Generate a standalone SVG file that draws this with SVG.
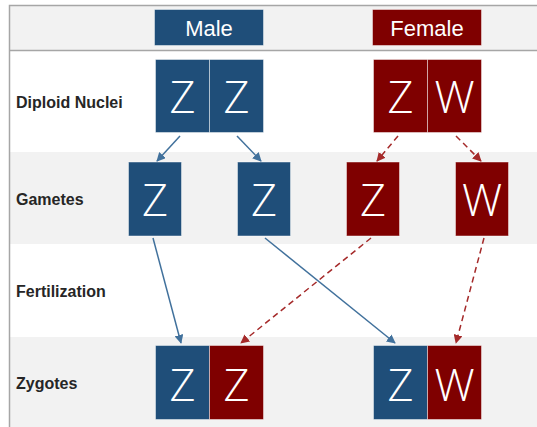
<svg xmlns="http://www.w3.org/2000/svg" width="537" height="427" viewBox="0 0 537 427">
  <style>
    .band { fill: #F2F2F2; }
    .rule { stroke: #A6A6A6; stroke-width: 1.5; fill: none; }
    .rowlabel { font-family: "Liberation Sans", Arial, sans-serif; font-weight: bold; font-size: 16px; fill: #262626; }
    .head { font-family: "Liberation Sans", Arial, sans-serif; font-size: 22px; fill: #FFFFFF; text-anchor: middle; }
    .blue { fill: #1F4E79; stroke: #FFFFFF; stroke-opacity: 0.45; stroke-width: 1; }
    .red { fill: #7F0000; stroke: #FFFFFF; stroke-opacity: 0.45; stroke-width: 1; }
    .chr { font-family: "Open Sans", "Liberation Sans", sans-serif; font-weight: 300; font-size: 45px; fill: #FFFFFF; text-anchor: middle; }
    .m { stroke: #41719C; stroke-width: 1.5; fill: none; marker-end: url(#ah-blue); }
    .f { stroke: #A52A2A; stroke-width: 1.5; fill: none; stroke-dasharray: 6 4; marker-end: url(#ah-red); }
  </style>
  <defs>
    <marker id="ah-blue" viewBox="0 0 10 10" refX="9" refY="5" markerWidth="6" markerHeight="6" markerUnits="strokeWidth" orient="auto">
      <path d="M0,0 L10,5 L0,10 z" fill="#41719C"/>
    </marker>
    <marker id="ah-red" viewBox="0 0 10 10" refX="9" refY="5" markerWidth="6" markerHeight="6" markerUnits="strokeWidth" orient="auto">
      <path d="M0,0 L10,5 L0,10 z" fill="#A52A2A"/>
    </marker>
  </defs>

  <!-- table background: header and alternating row bands -->
  <rect x="9" y="5" width="528" height="422" fill="#FFFFFF"/>
  <rect class="band" x="9" y="5" width="528" height="45"/>
  <rect class="band" x="9" y="152" width="528" height="92"/>
  <rect class="band" x="9" y="337" width="528" height="90"/>
  <path class="rule" d="M9.5,427 V5.5 H537 M9.5,50.5 H537"/>

  <!-- row labels -->
  <g id="labels">
    <text class="rowlabel" x="16" y="108">Diploid Nuclei</text>
    <text class="rowlabel" x="16" y="205">Gametes</text>
    <text class="rowlabel" x="16" y="297">Fertilization</text>
    <text class="rowlabel" x="16" y="389">Zygotes</text>
  </g>

  <!-- column headers -->
  <g id="male-header">
    <rect class="blue" x="154.5" y="9.5" width="109" height="36"/>
    <text class="head" x="209" y="36">Male</text>
  </g>
  <g id="female-header">
    <rect class="red" x="372.5" y="9.5" width="109" height="36"/>
    <text class="head" x="427" y="36">Female</text>
  </g>

  <!-- diploid nuclei -->
  <g id="male-diploid">
    <rect class="blue" x="155.5" y="59.5" width="54" height="73"/>
    <rect class="blue" x="209.5" y="59.5" width="54" height="73"/>
    <text class="chr" x="182.5" y="113">Z</text>
    <text class="chr" x="236.5" y="113">Z</text>
  </g>
  <g id="female-diploid">
    <rect class="red" x="373.5" y="59.5" width="54" height="73"/>
    <rect class="red" x="427.5" y="59.5" width="54" height="73"/>
    <text class="chr" x="400.5" y="113">Z</text>
    <text class="chr" x="454.5" y="113">W</text>
  </g>

  <!-- gametes -->
  <g id="gamete-m1">
    <rect class="blue" x="128.5" y="162" width="53" height="74"/>
    <text class="chr" x="155" y="216">Z</text>
  </g>
  <g id="gamete-m2">
    <rect class="blue" x="237.5" y="162" width="53" height="74"/>
    <text class="chr" x="264" y="216">Z</text>
  </g>
  <g id="gamete-f1">
    <rect class="red" x="346.5" y="162" width="53" height="74"/>
    <text class="chr" x="373" y="216">Z</text>
  </g>
  <g id="gamete-f2">
    <rect class="red" x="455.5" y="162" width="53" height="74"/>
    <text class="chr" x="482" y="216">W</text>
  </g>

  <!-- zygotes -->
  <g id="zygote-zz">
    <rect class="blue" x="155.5" y="345.5" width="54" height="74"/>
    <rect class="red" x="209.5" y="345.5" width="54" height="74"/>
    <text class="chr" x="182.5" y="401">Z</text>
    <text class="chr" x="236.5" y="401">Z</text>
  </g>
  <g id="zygote-zw">
    <rect class="blue" x="373.5" y="345.5" width="54" height="74"/>
    <rect class="red" x="427.5" y="345.5" width="54" height="74"/>
    <text class="chr" x="400.5" y="401">Z</text>
    <text class="chr" x="454.5" y="401">W</text>
  </g>

  <!-- connectors -->
  <g id="connectors">
    <line class="m" x1="180" y1="136" x2="157" y2="161"/>
    <line class="m" x1="237" y1="136" x2="261" y2="161"/>
    <line class="f" x1="398" y1="136" x2="377" y2="161"/>
    <line class="f" x1="456" y1="136" x2="481" y2="161"/>
    <line class="m" x1="153" y1="238" x2="181" y2="343"/>
    <line class="m" x1="265" y1="238" x2="395" y2="343"/>
    <line class="f" x1="371" y1="238" x2="241" y2="343"/>
    <line class="f" x1="484" y1="238" x2="456" y2="343"/>
  </g>
</svg>
